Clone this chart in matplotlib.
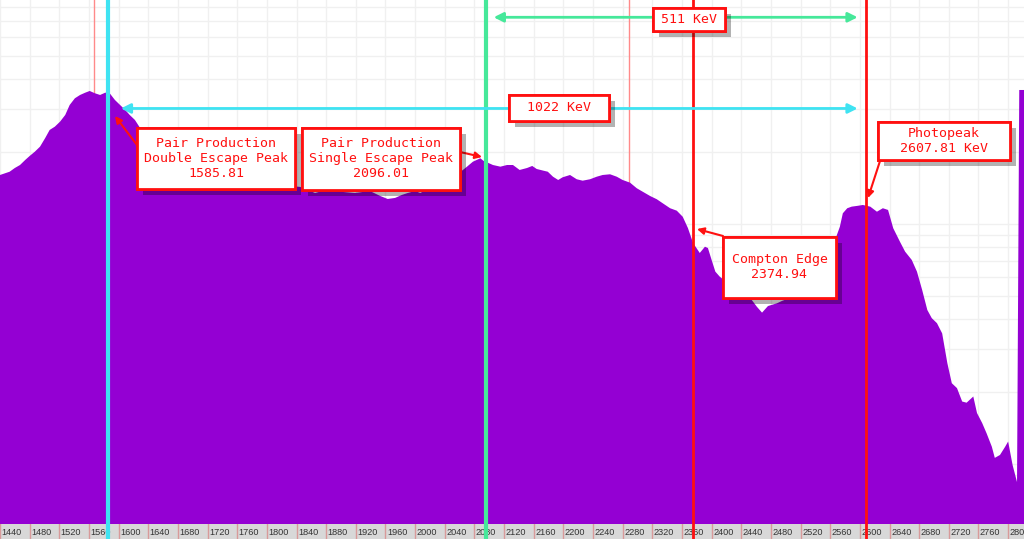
import numpy as np
import matplotlib
matplotlib.use('Agg')
import matplotlib.pyplot as plt
from matplotlib.patches import Rectangle
from matplotlib.ticker import LogLocator, FixedLocator
import matplotlib.patheffects as pe

# spectrum outline (keV, counts)
energy = [1440, 1453, 1460, 1467, 1474, 1480, 1487, 1494, 1501, 1507,
          1514, 1521, 1528, 1534, 1541, 1548, 1555, 1561, 1568, 1575,
          1582, 1588, 1595, 1602, 1609, 1615, 1622, 1629, 1642, 1656,
          1669, 1683, 1703, 1723, 1750, 1777, 1804, 1831, 1845, 1865,
          1885, 1903, 1919, 1939, 1953, 1963, 1973, 1982, 1990, 2000,
          2007, 2020, 2034, 2047, 2061, 2070, 2078, 2088, 2092, 2105,
          2115, 2124, 2132, 2141, 2151, 2158, 2164, 2173, 2179, 2186,
          2193, 2199, 2209, 2218, 2226, 2236, 2245, 2253, 2263, 2272,
          2280, 2290, 2299, 2307, 2317, 2326, 2334, 2344, 2353, 2361,
          2368, 2375, 2384, 2391, 2395, 2400, 2405, 2411, 2425, 2438,
          2452, 2461, 2468, 2476, 2488, 2495, 2506, 2519, 2533, 2546,
          2560, 2569, 2573, 2577, 2583, 2589, 2596, 2604, 2614, 2623,
          2631, 2638, 2645, 2654, 2661, 2670, 2677, 2684, 2691, 2697,
          2704, 2711, 2718, 2724, 2731, 2738, 2744, 2753, 2758, 2765,
          2771, 2778, 2782, 2789, 2796, 2800, 2806, 2812, 2815, 2822]
counts = [1600, 1651, 1711, 1761, 1848, 1920, 2001, 2100, 2282, 2465,
          2544, 2669, 2846, 3132, 3340, 3448, 3525, 3583, 3505, 3448,
          3525, 3505, 3287, 3132, 2985, 2846, 2713, 2512, 2239, 1995,
          1813, 1679, 1585, 1525, 1496, 1468, 1454, 1440, 1427, 1346,
          1399, 1359, 1346, 1372, 1308, 1271, 1284, 1321, 1346, 1372,
          1346, 1413, 1496, 1570, 1647, 1733, 1818, 1878, 1835, 1761,
          1733, 1761, 1761, 1679, 1711, 1745, 1695, 1668, 1651, 1574,
          1525, 1565, 1600, 1536, 1515, 1536, 1574, 1600, 1611, 1574,
          1525, 1486, 1409, 1363, 1308, 1268, 1220, 1163, 1136, 1072,
          962, 833, 757, 804, 794, 708, 633, 603, 557, 521,
          492, 452, 427, 455, 467, 478, 492, 511, 541, 596,
          743, 900, 974, 1108, 1163, 1181, 1189, 1200, 1181, 1125,
          1163, 1144, 960, 844, 767, 708, 633, 531, 438, 405,
          386, 350, 263, 217, 207, 182, 180, 191, 163, 148,
          134, 118, 106, 109, 118, 124, 99, 84, 3617, 3617]

# marker energies (keV)
double_escape = 1585.81
single_escape = 2096.01
compton_edge = 2374.94
photopeak = 2607.81
faint_marks = [1567, 2289]

tick_values = list(range(1440, 2801, 40))

W, H = 1024, 539
BAR = 15
x_lo, x_hi = 1440, 2821.4
y_lo, y_hi = 56.2, 8577

violet = '#9400d3'
cyan = '#3fe3f2'
green = '#46e89a'
red = '#ff1010'
mono = 'DejaVu Sans Mono'

fig = plt.figure(figsize=(W / 100, H / 100), dpi=100)
ax = fig.add_axes([0, BAR / H, 1, 1 - BAR / H])
axb = fig.add_axes([0, 0, 1, BAR / H])

# main plot
ax.set_xlim(x_lo, x_hi)
ax.set_yscale('log')
ax.set_ylim(y_lo, y_hi)
ax.xaxis.set_major_locator(FixedLocator(tick_values))
ax.yaxis.set_major_locator(LogLocator(base=10))
ax.yaxis.set_minor_locator(LogLocator(base=10, subs=np.arange(2, 10)))
ax.grid(True, which='both', color='#f0f0f0', lw=1)
ax.set_axisbelow(True)
ax.tick_params(which='both', length=0, labelleft=False, labelbottom=False)
for s in ax.spines.values():
    s.set_visible(False)

for e in faint_marks:
    ax.axvline(e, color='#ff8a8a', lw=1, zorder=1)

ax.fill_between(energy, counts, 1, color=violet, lw=0, zorder=2)

for a in (ax, axb):
    a.axvline(double_escape, color=cyan, lw=3, zorder=5)
    a.axvline(single_escape, color=green, lw=3, zorder=5)
    a.axvline(compton_edge, color=red, lw=2, zorder=5)
    a.axvline(photopeak, color=red, lw=2, zorder=5)

# energy difference arrows
ax.annotate('', xy=(2597, 0.967), xytext=(2106, 0.967),
            xycoords=('data', 'axes fraction'), textcoords=('data', 'axes fraction'),
            arrowprops=dict(arrowstyle='<|-|>', color=green, lw=2,
                            mutation_scale=14, shrinkA=0, shrinkB=0), zorder=6)
ax.annotate('', xy=(2597, 0.793), xytext=(1603, 0.793),
            xycoords=('data', 'axes fraction'), textcoords=('data', 'axes fraction'),
            arrowprops=dict(arrowstyle='<|-|>', color=cyan, lw=2,
                            mutation_scale=14, shrinkA=0, shrinkB=0), zorder=6)

# tick bar
axb.set_xlim(x_lo, x_hi)
axb.set_ylim(0, 1)
axb.set_facecolor('#d8d8d8')
axb.set_xticks([])
axb.set_yticks([])
for s in axb.spines.values():
    s.set_visible(False)
for t in tick_values:
    axb.axvline(t, color='#d89a9a', lw=1, zorder=1)
    axb.text(t + 2, 0.45, str(t), ha='left', va='center', fontsize=6.6,
             family='Liberation Sans', color='#333333', zorder=2)


def fpx(x, y):
    return x / W, 1 - y / H


def label_box(x0, y0, x1, y1, text):
    fx, fy = fpx(x0, y1)
    r = Rectangle((fx, fy), (x1 - x0) / W, (y1 - y0) / H, transform=fig.transFigure,
                  facecolor='white', edgecolor=red, lw=2, zorder=10)
    r.set_path_effects([pe.withSimplePatchShadow(offset=(4, -4), shadow_rgbFace='k', alpha=0.3),
                        pe.Normal()])
    fig.add_artist(r)
    cx, cy = fpx((x0 + x1) / 2, (y0 + y1) / 2)
    fig.text(cx, cy, text, ha='center', va='center', fontsize=9.5, family=mono,
             color=red, linespacing=1.2, zorder=11)


def pointer(x0, y0, x1, y1):
    fig.add_artist(plt.matplotlib.text.Annotation(
        '', xy=fpx(x1, y1), xytext=fpx(x0, y0), xycoords='figure fraction',
        textcoords='figure fraction',
        arrowprops=dict(arrowstyle='-|>', color=red, lw=1.5, mutation_scale=10,
                        shrinkA=0, shrinkB=0), zorder=9))


label_box(653, 8, 725, 31, '511 KeV')
label_box(509, 95, 609, 121, '1022 KeV')

pointer(137, 145, 115, 116)
label_box(137, 128, 295, 189, 'Pair Production\nDouble Escape Peak\n%.2f' % double_escape)
pointer(460, 152, 482, 157)
label_box(302, 128, 460, 190, 'Pair Production\nSingle Escape Peak\n%.2f' % single_escape)
pointer(723, 236, 697, 229)
label_box(723, 237, 836, 298, 'Compton Edge\n%.2f' % compton_edge)
pointer(880, 161, 868, 198)
label_box(878, 122, 1010, 160, 'Photopeak\n%.2f KeV' % photopeak)

fig.savefig('out.png', dpi=100)
